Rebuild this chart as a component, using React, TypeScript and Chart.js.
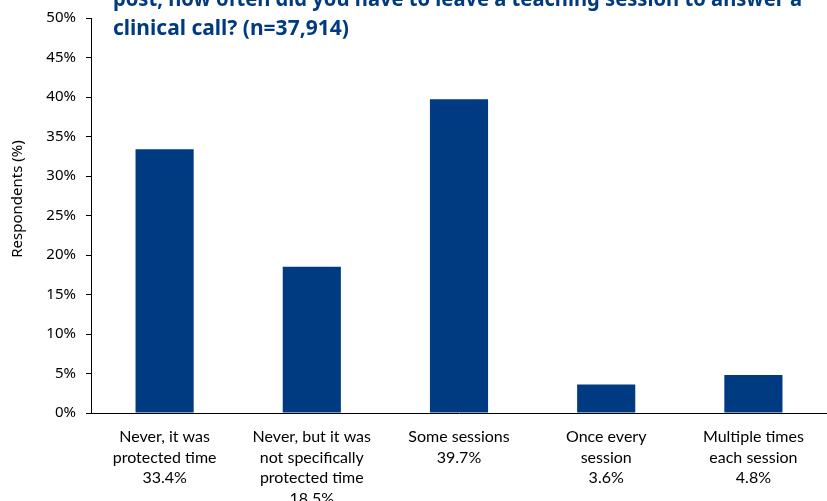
import React, { useEffect, useRef } from "react";
import { Chart, registerables } from "chart.js";

Chart.register(...registerables);

const categories: string[][] = [
  ["Never, it was", "protected time", "33.4%"],
  ["Never, but it was", "not specifically", "protected time", "18.5%"],
  ["Some sessions", "39.7%"],
  ["Once every", "session", "3.6%"],
  ["Multiple times", "each session", "4.8%"],
];
const values: number[] = [33.4, 18.5, 39.7, 3.6, 4.8];
const titleLines: string[] = [
  "post, how often did you have to leave a teaching session to answer a",
  "clinical call? (n=37,914)",
];
const yAxisTitle = "Respondents (%)";

const BLUE = "#003A81";
const FONT = "'Noto Sans', sans-serif";
const LABEL_FONT = "Lato, 'Noto Sans', sans-serif";

const textPlugin = {
  id: "extraText",
  afterDraw(chart: any) {
    const ctx = chart.ctx;
    const top = chart.chartArea.top;
    ctx.save();
    ctx.fillStyle = BLUE;
    ctx.font = `bold 21px ${FONT}`;
    ctx.textAlign = "left";
    ctx.textBaseline = "alphabetic";
    const y2 = top + 17;
    titleLines.forEach((line, i) => {
      ctx.fillText(line, 113, y2 - (titleLines.length - 1 - i) * 29, 689);
    });
    ctx.restore();

    ctx.save();
    ctx.fillStyle = "#000";
    ctx.font = `15px ${FONT}`;
    ctx.textAlign = "center";
    ctx.textBaseline = "middle";
    ctx.translate(18, top + 181);
    ctx.rotate(-Math.PI / 2);
    ctx.fillText(yAxisTitle, 0, 0);
    ctx.restore();
  },
};

export default function App() {
  const ref = useRef<HTMLCanvasElement>(null);
  useEffect(() => {
    if (!ref.current) return;
    const chart = new Chart(ref.current, {
      type: "bar",
      data: {
        labels: categories as any,
        datasets: [
          {
            data: values,
            backgroundColor: BLUE,
            borderWidth: 0,
            categoryPercentage: 1,
            barPercentage: 0.395,
          },
        ],
      },
      options: {
        responsive: false,
        animation: false,
        layout: { padding: { top: 58, left: 0, right: 0, bottom: 0 } },
        plugins: {
          legend: { display: false },
          tooltip: { enabled: false },
          title: { display: false },
        },
        scales: {
          x: {
            grid: { display: false, drawTicks: false },
            border: { display: true, color: "#000", width: 1 },
            ticks: {
              color: "#000",
              font: { family: LABEL_FONT, size: 16, lineHeight: 1.28 },
              padding: 14,
              maxRotation: 0,
              autoSkip: false,
            },
            afterFit(scale: any) {
              scale.height = 107;
            },
          },
          y: {
            min: 0,
            max: 50,
            grid: {
              display: true,
              drawOnChartArea: false,
              drawTicks: true,
              tickLength: 5,
              color: "#000",
            },
            border: { display: true, color: "#000", width: 1 },
            ticks: {
              stepSize: 5,
              color: "#000",
              font: { family: FONT, size: 15 },
              padding: 10,
              callback: (v: any) => `${v}%`,
            },
            title: { display: false },
            afterFit(scale: any) {
              scale.width = 91;
            },
          },
        },
      },
      plugins: [textPlugin],
    });
    return () => chart.destroy();
  }, []);
  return (
    <div
      style={{
        position: "fixed",
        left: 0,
        top: -40,
        width: 827,
        height: 560,
        background: "#fff",
      }}
    >
      <canvas ref={ref} width={827} height={560} style={{ display: "block" }} />
    </div>
  );
}
